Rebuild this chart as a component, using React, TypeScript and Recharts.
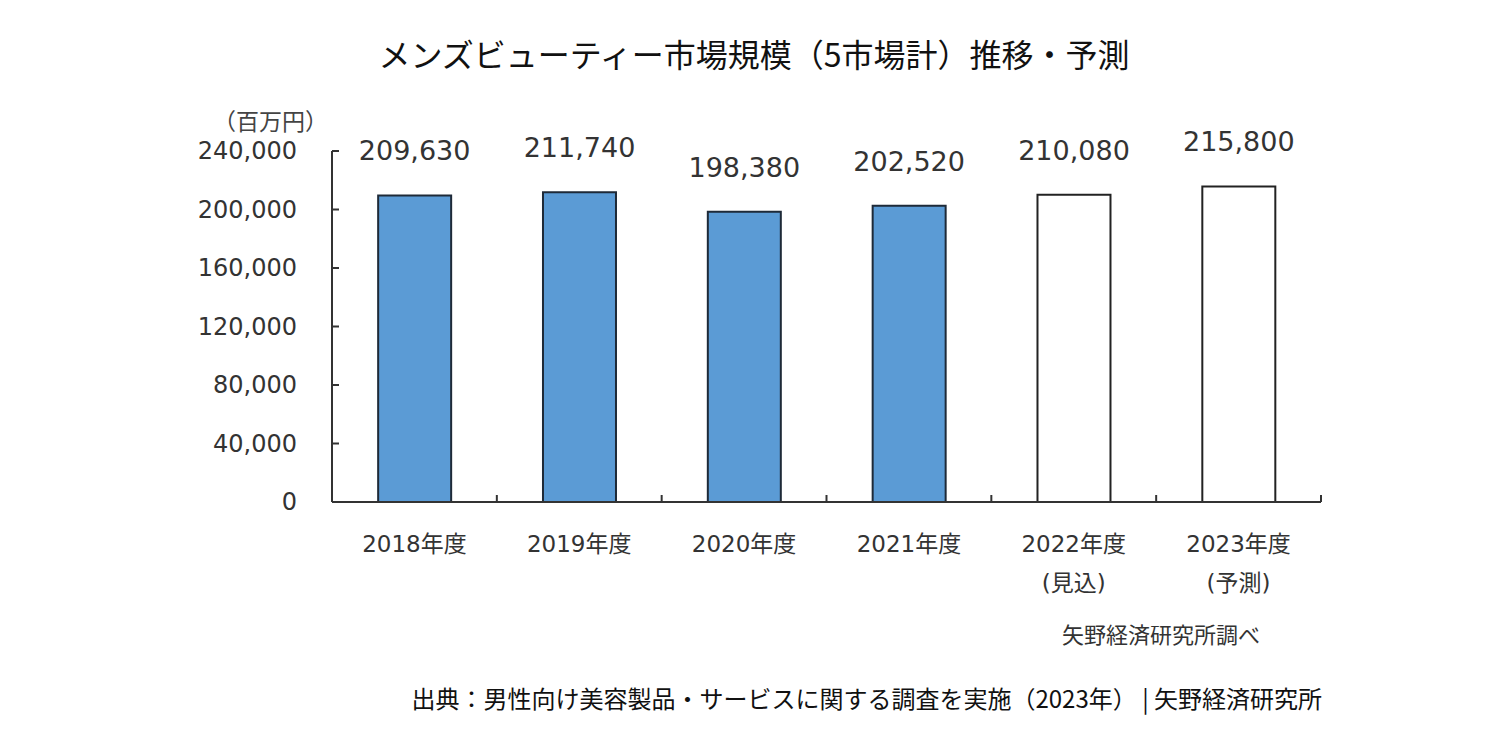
import { BarChart, Bar, XAxis, YAxis, Cell, LabelList } from 'recharts';

const years = ['2018年度', '2019年度', '2020年度', '2021年度', '2022年度', '2023年度'];
const notes = ['', '', '', '', '(見込)', '(予測)'];
const marketSize = [209630, 211740, 198380, 202520, 210080, 215800];
const isActual = [true, true, true, true, false, false];
const yTicks = [0, 40000, 80000, 120000, 160000, 200000, 240000];

const data = years.map((y, i) => ({ year: y, note: notes[i], value: marketSize[i], actual: isActual[i] }));

const JP = '"Noto Sans CJK JP", "Noto Sans", sans-serif';
const NUM = '"DejaVu Sans", "Noto Sans CJK JP", sans-serif';
const AXIS = '#333';

// category label + inward tick mark on the right edge of each band
function YearTick(props: any) {
  const { x, y, payload, index } = props;
  const note = notes[index];
  const half = payload?.offset ?? 0;
  return (
    <g>
      {half > 0 && <line x1={x + half} x2={x + half} y1={y} y2={y - 7} stroke={AXIS} strokeWidth={2} />}
      <text x={x} y={y} textAnchor="middle" fill="#333" fontSize={23} fontFamily={NUM} dy={50}>
        {payload.value}
      </text>
      {note && (
        <text x={x} y={y} textAnchor="middle" fill="#333" fontSize={23} fontFamily={NUM} dy={89}>
          {note}
        </text>
      )}
    </g>
  );
}

function ValueTick(props: any) {
  const { x, y, payload } = props;
  return (
    <g>
      <line x1={x} x2={x + 7} y1={y} y2={y} stroke={AXIS} strokeWidth={2} />
      <text x={x - 35} y={y} textAnchor="end" fill="#333" fontSize={24} fontFamily={NUM} dy={8}>
        {Number(payload.value).toLocaleString('en-US')}
      </text>
    </g>
  );
}

export default function App() {
  return (
    <div style={{ position: 'absolute', left: 0, top: 0, width: 1500, height: 730, background: '#fff', fontFamily: JP }}>
      <div style={{ position: 'absolute', left: 4, width: 1500, top: 30, textAlign: 'center', fontSize: 32, color: '#111' }}>
        メンズビューティー市場規模（5市場計）推移・予測
      </div>
      <div style={{ position: 'absolute', left: 213, top: 103, fontSize: 23, color: '#444' }}>（百万円）</div>
      <BarChart width={1500} height={730} data={data} margin={{ top: 151, right: 179, bottom: 168, left: 232 }} barCategoryGap="28%">
        <XAxis
          dataKey="year"
          stroke={AXIS}
          strokeWidth={2}
          tickLine={false}
          tickSize={0}
          tickMargin={0}
          tick={<YearTick />}
          height={60}
          interval={0}
        />
        <YAxis
          domain={[0, 240000]}
          ticks={yTicks}
          tickLine={false}
          tickSize={0}
          tickMargin={0}
          width={100}
          stroke={AXIS}
          strokeWidth={2}
          tick={<ValueTick />}
        />
        <Bar dataKey="value" isAnimationActive={false} strokeWidth={2}>
          {data.map((d, i) => (
            <Cell key={i} fill={d.actual ? '#5b9bd5' : '#ffffff'} stroke={d.actual ? '#1e2a38' : '#222'} />
          ))}
          <LabelList
            dataKey="value"
            position="top"
            offset={35}
            fill="#333"
            fontSize={27}
            fontFamily={NUM}
            formatter={(v: any) => Number(v).toLocaleString('en-US')}
          />
        </Bar>
      </BarChart>
      <div style={{ position: 'absolute', left: 1062, top: 617, fontSize: 22, color: '#333' }}>矢野経済研究所調べ</div>
      <div style={{ position: 'absolute', right: 178, top: 680, fontSize: 24, color: '#111' }}>
        出典：男性向け美容製品・サービスに関する調査を実施（2023年） | 矢野経済研究所
      </div>
    </div>
  );
}
